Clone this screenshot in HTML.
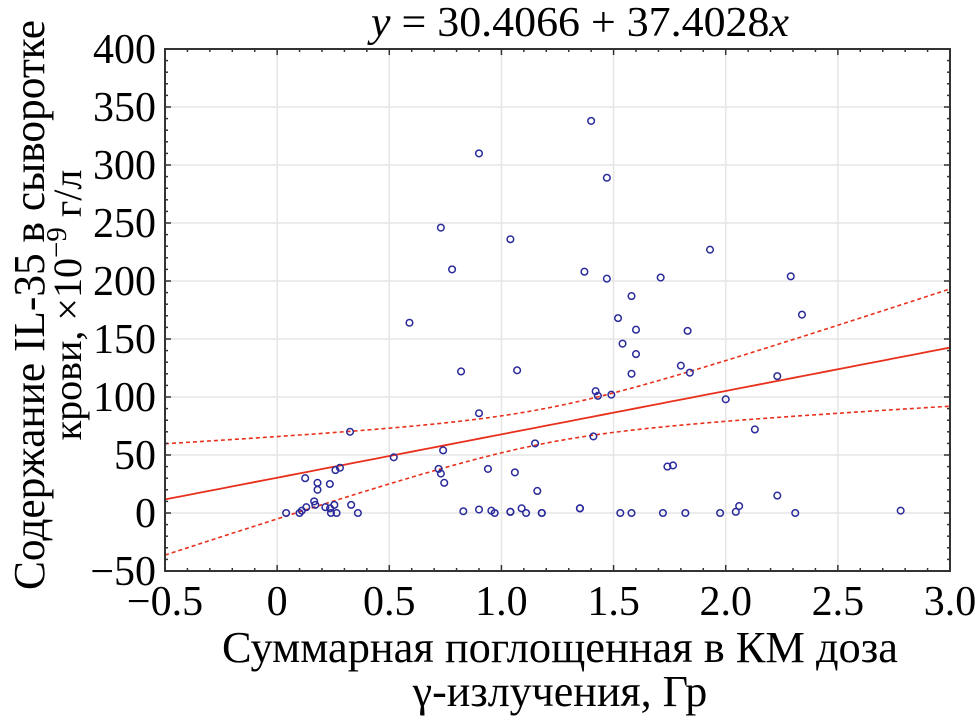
<!DOCTYPE html>
<html><head><meta charset="utf-8"><style>
body{margin:0;background:#fff;}
svg text{font-family:"Liberation Serif",serif;fill:#000;}
</style></head><body>
<svg id="chart" width="977" height="718" xmlns="http://www.w3.org/2000/svg">
<g id="grid"></g>
<g id="bands"></g>
<g id="points"></g>
<g id="axes"></g>
<text x="580" y="36" font-size="42" text-anchor="middle" textLength="418" lengthAdjust="spacingAndGlyphs"><tspan font-style="italic">y</tspan> = 30.4066 + 37.4028<tspan font-style="italic">x</tspan></text>
<text x="560" y="662" font-size="44" text-anchor="middle" textLength="676" lengthAdjust="spacingAndGlyphs">Суммарная поглощенная в КМ доза</text>
<text x="560" y="706" font-size="44" text-anchor="middle">γ-излучения, Гр</text>
<text transform="translate(44,305) rotate(-90)" font-size="44" text-anchor="middle" textLength="570" lengthAdjust="spacingAndGlyphs">Содержание IL-35 в сыворотке</text>
<text transform="translate(81,305) rotate(-90)" font-size="40" text-anchor="middle">крови, ×10<tspan dy="-15" font-size="29">−9</tspan><tspan dy="15"> г/л</tspan></text>
</svg>
<script>
const xs=[0.04,0.10,0.11,0.13,0.125,0.165,0.17,0.18,0.18,0.215,0.235,0.236,0.24,0.255,0.26,0.265,0.28,0.325,0.33,0.36,0.52,0.59,0.72,0.73,0.73,0.74,0.745,0.78,0.82,0.83,0.90,0.90,0.90,0.94,0.955,0.97,1.04,1.04,1.04,1.06,1.07,1.09,1.11,1.15,1.16,1.18,1.18,1.35,1.35,1.37,1.40,1.41,1.42,1.43,1.47,1.47,1.49,1.52,1.53,1.54,1.58,1.58,1.58,1.60,1.60,1.71,1.72,1.74,1.765,1.80,1.82,1.83,1.84,1.93,1.975,2.00,2.045,2.06,2.13,2.23,2.23,2.29,2.31,2.34,2.78];
const ys=[0,0,2,5,30,10,7,26,20,5,25,4,0,7,37,0,39,70,7,0,48,164,38,34,246,54,26,210,122,1.5,86,3,310,38,2,0,1,236,1,35,123,4,0,60,19,0,0,4,4,208,338,66,105,101,289,202,102,168,0,146,120,0,187,158,137,203,0,40,41,127,0,157,121,227,0,98,1,6,72,118,15,204,0,171,2];
const fitCoef=[30.4066,37.4028];
const bandParams=[225,719,1.2];
const xTicks=[-0.5,0,0.5,1.0,1.5,2.0,2.5,3.0];
const xTickLabels=["−0.5","0","0.5","1.0","1.5","2.0","2.5","3.0"];
const yTicks=[-50,0,50,100,150,200,250,300,350,400];
const yTickLabels=["−50","0","50","100","150","200","250","300","350","400"];
const L=165,R=950,T=49,B=571;
const sx=v=>L+(v+0.5)/3.5*(R-L);
const sy=v=>B-(v+50)/450*(B-T);
const NS="http://www.w3.org/2000/svg";
function mk(tag,parent,attrs){const e=document.createElementNS(NS,tag);for(const k in attrs)e.setAttribute(k,attrs[k]);parent.appendChild(e);return e;}
const grid=document.getElementById('grid'),axes=document.getElementById('axes'),pts=document.getElementById('points'),bands=document.getElementById('bands');
xTicks.forEach((t,i)=>{
 if(i>0&&i<xTicks.length-1){const g=mk('line',grid,{x1:sx(t),x2:sx(t),y1:T,y2:B,stroke:'#e6e6e6','stroke-width':1.5});}
 const lb=mk('text',axes,{x:sx(t),y:B+44,'font-size':42,'text-anchor':'middle'});lb.textContent=xTickLabels[i];
 
});
yTicks.forEach((t,i)=>{
 if(i>0&&i<yTicks.length-1){const g=mk('line',grid,{x1:L,x2:R,y1:sy(t),y2:sy(t),stroke:'#e6e6e6','stroke-width':1.5});}
 const lb=mk('text',axes,{x:L-9,y:sy(t)+14,'font-size':42,'text-anchor':'end'});lb.textContent=yTickLabels[i];
 
});
for(let v=-0.5;v<=3.0001;v+=0.1){const big=Math.abs(v*2-Math.round(v*2))<1e-6;const len=big?6:3;const x=sx(v);
 mk('line',axes,{x1:x,x2:x,y1:B,y2:B-len,stroke:'#333','stroke-width':1.5});mk('line',axes,{x1:x,x2:x,y1:T,y2:T+len,stroke:'#333','stroke-width':1.5});}
for(let v=-50;v<=400;v+=10){const big=v%50===0;const len=big?6:3;const y=sy(v);
 mk('line',axes,{x1:L,x2:L+len,y1:y,y2:y,stroke:'#333','stroke-width':1.5});mk('line',axes,{x1:R,x2:R-len,y1:y,y2:y,stroke:'#333','stroke-width':1.5});}
const frame=mk('rect',axes,{x:L,y:T,width:R-L,height:B-T,fill:'none',stroke:'#333','stroke-width':2});

const fy=x=>fitCoef[0]+fitCoef[1]*x;
const hw=x=>Math.sqrt(bandParams[0]+bandParams[1]*(x-bandParams[2])**2);
let pc='',pu='',pl='';
for(let x=-0.5;x<=3.0001;x+=0.05){pc+=(pc?'L':'M')+sx(x)+','+sy(fy(x));pu+=(pu?'L':'M')+sx(x)+','+sy(fy(x)+hw(x));pl+=(pl?'L':'M')+sx(x)+','+sy(fy(x)-hw(x));}
const lc=mk('path',bands,{d:pc,fill:'none',stroke:'#e8301c','stroke-width':1.8});

const lu=mk('path',bands,{d:pu,fill:'none',stroke:'#e8301c','stroke-width':1.6,'stroke-dasharray':'4,3'});

const ll=mk('path',bands,{d:pl,fill:'none',stroke:'#e8301c','stroke-width':1.6,'stroke-dasharray':'4,3'});

xs.forEach((x,i)=>{const c=mk('circle',pts,{cx:sx(x),cy:sy(ys[i]),r:3.3,fill:'none',stroke:'#2a2a9a','stroke-width':1.5});
 });
</script>
</body></html>
